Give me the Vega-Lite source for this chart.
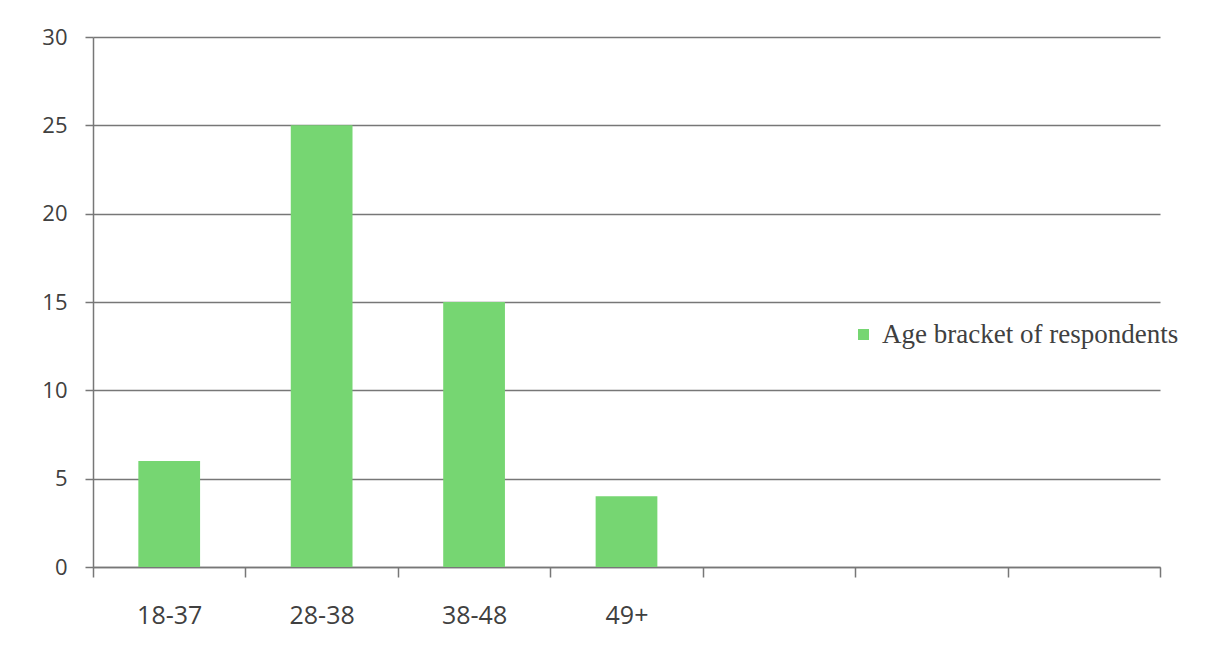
{
  "$schema": "https://vega.github.io/schema/vega-lite/v6.json",
  "width": 1067,
  "height": 530,
  "autosize": {"type": "none"},
  "padding": {"left": 93, "top": 37, "right": 47, "bottom": 95},
  "background": "white",
  "data": {"values": [
    {"age": "18-37", "count": 6, "series": "Age bracket of respondents"},
    {"age": "28-38", "count": 25, "series": "Age bracket of respondents"},
    {"age": "38-48", "count": 15, "series": "Age bracket of respondents"},
    {"age": "49+", "count": 4, "series": "Age bracket of respondents"}
  ]},
  "mark": {"type": "bar", "width": {"band": 0.405}},
  "encoding": {
    "x": {
      "field": "age", "type": "nominal", "sort": null,
      "scale": {"domain": ["18-37", "28-38", "38-48", "49+", " ", "  ", "   "], "paddingInner": 0, "paddingOuter": 0},
      "axis": {
        "title": null, "labelAngle": 0, "tickBand": "extent",
        "tickSize": 10, "tickColor": "#777", "tickWidth": 1.5,
        "domainColor": "#777", "domainWidth": 1.5,
        "labelFont": "Open Sans", "labelFontSize": 25, "labelColor": "#404040",
        "labelPadding": 26, "grid": false
      }
    },
    "y": {
      "field": "count", "type": "quantitative",
      "scale": {"domain": [0, 30]},
      "axis": {
        "title": null, "values": [0, 5, 10, 15, 20, 25, 30],
        "tickSize": 8, "tickColor": "#777", "tickWidth": 1.5,
        "domainColor": "#777", "domainWidth": 1.5,
        "gridColor": "#777", "gridWidth": 1.5,
        "labelFont": "Open Sans", "labelFontSize": 22, "labelColor": "#404040",
        "labelPadding": 18
      }
    },
    "color": {
      "field": "series", "type": "nominal",
      "scale": {"range": ["#76d672"]},
      "legend": {
        "title": null, "orient": "none", "legendX": 757, "legendY": 284,
        "symbolType": "square", "symbolSize": 121,
        "labelFont": "Liberation Serif", "labelFontSize": 27, "labelColor": "#404040",
        "labelLimit": 500, "symbolStrokeWidth": 0, "labelOffset": 5
      }
    }
  },
  "config": {"view": {"stroke": null}}
}
